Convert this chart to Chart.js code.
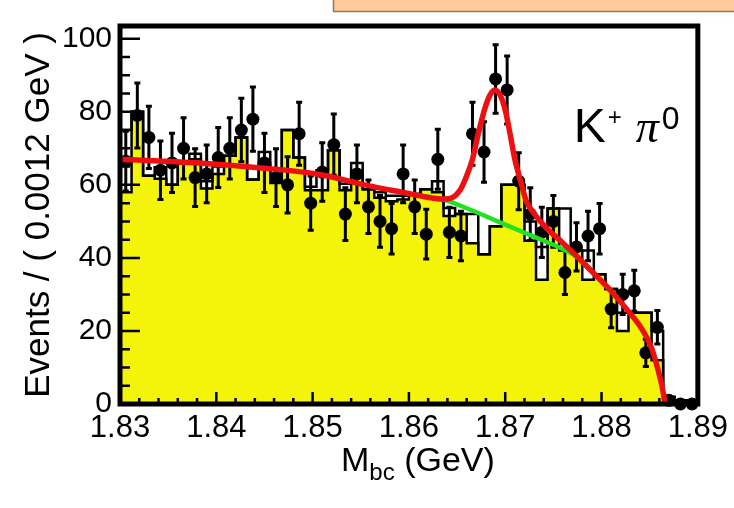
<!DOCTYPE html>
<html>
<head>
<meta charset="utf-8">
<script src="https://cdn.jsdelivr.net/npm/chart.js@4.4.1/dist/chart.umd.min.js"></script>
<style>
  html, body { margin: 0; padding: 0; background: #fff; }
  #wrap { width: 734px; height: 508px; position: relative; }
</style>
</head>
<body>
<div id="wrap"><canvas id="mbc-chart" width="734" height="508"></canvas></div>
<script>
// binning: 50 bins of 0.0012 GeV starting at 1.83
const binLow = 1.83;
const binWidth = 0.0012;

// data points (events per bin) and their error bars
const dataCounts = [
  66.5, 79, 73, 64, 66, 70, 62, 63, 67.5, 70,
  75, 78, 66, 62, 60, 74, 55, 63.5, 71, 52,
  63, 54, 50, 48, 63, 54, 46.5, 67, 47, 46,
  74, 69, 89, 86, 61, 52, 47, 50, 36, 43,
  46, 48, 26, 30, 31, 14, 21, 1, 0, 0,
];
const dataErrors = [
  8.2, 8.9, 8.5, 8.0, 8.1, 8.4, 7.9, 7.9, 8.2, 8.4,
  8.7, 8.8, 8.1, 7.9, 7.7, 8.6, 7.4, 8.0, 8.4, 7.2,
  7.9, 7.3, 7.1, 6.9, 7.9, 7.3, 6.8, 8.2, 6.9, 6.8,
  8.6, 8.3, 9.4, 9.3, 7.8, 7.2, 6.9, 7.1, 6.0, 6.6,
  6.8, 6.9, 5.1, 5.5, 5.6, 3.7, 4.6, 1.0, 0, 0,
];

// yellow filled histogram and the open outline histogram
const yellowHist = [
  58, 80, 62.5, 61.7, 60, 66, 67, 59, 63, 68,
  73, 61.5, 66, 60.5, 75, 67.5, 58.5, 58.5, 69.5, 58.5,
  63, 58.8, 56.5, 55.5, 56, 57.5, 58.8, 58, 51.5, 52,
  44, 41, 48.7, 60, 60, 44.7, 34, 53.5, 42, 42,
  34, 35.5, 31.5, 20, 25, 25, 12, 0, 0, 0,
];
const outlineHist = [
  75, 80, 62.5, 64.8, 60, 66, 68.5, 61, 65, 68,
  73, 61.5, 69, 62, 75, 67.5, 59.5, 64, 69.5, 60.3,
  66, 58.8, 58, 57, 57, 57.5, 58.8, 61, 53.7, 52,
  52, 41, 48.7, 60, 60, 50, 43, 53.5, 53.5, 42,
  42, 35.5, 31.5, 25, 25, 25, 20, 2, 1, 1,
];

// total fit (red)
const fitX = [
  1.8300, 1.8382, 1.8444, 1.8506, 1.8554, 1.8598, 1.8619, 1.8636, 1.8645, 1.8653,
  1.8660, 1.8666, 1.8672, 1.8679, 1.8684, 1.8689, 1.8695, 1.8700, 1.8705, 1.8710,
  1.8716, 1.8722, 1.8729, 1.8742, 1.8759, 1.8776, 1.8793, 1.8811, 1.8827, 1.8842,
  1.8852, 1.8858, 1.8863, 1.8866,
];
const fitY = [
  67, 66, 64.7, 62.9, 60, 57.7, 56.6, 56.1, 56.5, 58.5,
  62.5, 67, 74, 81, 84.5, 86, 84.5, 80.5, 74, 67,
  61, 55.5, 52.5, 48.4, 44.3, 40.0, 35.5, 30.6, 25.7, 20.5,
  15.3, 10, 4.6, 0,
];

// background component (green)
const bkgX = [1.8600, 1.8636, 1.8660, 1.8680, 1.8700, 1.8720, 1.8740, 1.8760, 1.8776, 1.8793];
const bkgY = [57.5, 56.0, 53.6, 51.4, 49.1, 46.9, 44.7, 42.4, 40.0, 35.5];

const xTicks = [1.83, 1.84, 1.85, 1.86, 1.87, 1.88, 1.89];
const yTicks = [0, 20, 40, 60, 80, 100];

const FONT = '"Liberation Sans", Arial, Helvetica, sans-serif';

function histSteps(values) {
  const pts = [{ x: binLow, y: 0 }];
  values.forEach((v, i) => pts.push({ x: binLow + i * binWidth, y: v }));
  const end = binLow + values.length * binWidth;
  pts.push({ x: end, y: values[values.length - 1] });
  pts.push({ x: end, y: 0 });
  return pts;
}

const dataPoints = dataCounts.map((v, i) => ({ x: binLow + (i + 0.5) * binWidth, y: v }));

const errorBars = {
  id: 'errorBars',
  beforeDatasetDraw(chart, args) {
    if (args.meta.label !== 'data') return;
    const { ctx, scales: { x, y } } = chart;
    ctx.save();
    ctx.strokeStyle = '#000';
    ctx.lineWidth = 3;
    dataCounts.forEach((v, i) => {
      const err = dataErrors[i];
      if (!err) return;
      const px = x.getPixelForValue(binLow + (i + 0.5) * binWidth);
      const top = y.getPixelForValue(v + err);
      const bot = y.getPixelForValue(Math.max(v - err, 0));
      ctx.beginPath();
      ctx.moveTo(px, top); ctx.lineTo(px, bot);
      ctx.moveTo(px - 3, top); ctx.lineTo(px + 3, top);
      ctx.moveTo(px - 3, bot); ctx.lineTo(px + 3, bot);
      ctx.stroke();
    });
    ctx.restore();
  },
};

const frameAndTicks = {
  id: 'frameAndTicks',
  beforeDraw(chart) {
    const { ctx } = chart;
    ctx.save();
    ctx.fillStyle = '#ffcc99';
    ctx.fillRect(333, 0, 401, 11);
    ctx.strokeStyle = '#8a7a6a';
    ctx.lineWidth = 1.5;
    ctx.beginPath();
    ctx.moveTo(333.5, 0); ctx.lineTo(333.5, 11.5); ctx.lineTo(734, 11.5);
    ctx.stroke();
    ctx.restore();
  },
  afterDatasetsDraw(chart) {
    const { ctx, chartArea: a, scales: { x, y } } = chart;
    ctx.save();
    ctx.strokeStyle = '#000';
    ctx.lineWidth = 2.5;
    ctx.beginPath();
    for (let i = 0; i <= 30; i++) {
      const px = x.getPixelForValue(xTicks[0] + i * 0.002);
      const len = i % 5 === 0 ? 12 : 6;
      ctx.moveTo(px, a.bottom); ctx.lineTo(px, a.bottom - len);
    }
    for (let i = 0; i <= 20; i++) {
      const py = y.getPixelForValue(i * 5);
      const len = i % 4 === 0 ? 20 : 10;
      ctx.moveTo(a.left, py); ctx.lineTo(a.left + len, py);
    }
    ctx.stroke();
    ctx.lineWidth = 5;
    ctx.strokeRect(a.left, a.top, a.right - a.left, a.bottom - a.top);
    ctx.restore();
  },
  afterDraw(chart) {
    const { ctx, chartArea: a } = chart;
    ctx.save();
    ctx.fillStyle = '#000';
    ctx.textBaseline = 'alphabetic';
    ctx.textAlign = 'left';
    // x axis title with subscript
    const big = `34px ${FONT}`;
    const small = `24px ${FONT}`;
    ctx.font = big;
    const wM = ctx.measureText('M').width;
    const wRest = ctx.measureText(' (GeV)').width;
    ctx.font = small;
    const wSub = ctx.measureText('bc').width;
    let tx = (a.left + a.right) / 2 + 9 - (wM + wSub + wRest) / 2;
    const base = a.bottom + 67;
    ctx.font = big;
    ctx.fillText('M', tx, base);
    tx += wM;
    ctx.font = small;
    ctx.fillText('bc', tx, base + 9);
    tx += wSub;
    ctx.font = big;
    ctx.fillText(' (GeV)', tx, base);

    // channel label
    const lx = a.right - 124;
    const ly = a.top + 116;
    ctx.font = `48px ${FONT}`;
    ctx.fillText('K', lx, ly);
    ctx.font = `24px ${FONT}`;
    ctx.fillText('+', lx + 34, ly - 17);
    ctx.font = `italic 46px "Liberation Serif", "DejaVu Serif", serif`;
    ctx.fillText('π', lx + 62, ly);
    ctx.font = `32px ${FONT}`;
    ctx.fillText('0', lx + 88, ly - 13);
    ctx.restore();
  },
};

const chart = new Chart(document.querySelector('#mbc-chart'), {
  type: 'line',
  data: {
    datasets: [
      {
        label: 'yellow',
        data: histSteps(yellowHist),
        stepped: 'before',
        fill: 'origin',
        backgroundColor: '#f4f40a',
        borderColor: '#000',
        borderWidth: 2.5,
        pointRadius: 0,
        order: 6,
      },
      {
        label: 'outline',
        data: histSteps(outlineHist),
        stepped: 'before',
        fill: false,
        borderColor: '#000',
        borderWidth: 2.5,
        pointRadius: 0,
        order: 5,
      },
      {
        label: 'data',
        type: 'scatter',
        data: dataPoints,
        pointRadius: 6.5,
        pointBackgroundColor: '#000',
        pointBorderWidth: 0,
        showLine: false,
        clip: false,
        order: 4,
      },
      {
        label: 'background',
        data: bkgX.map((v, i) => ({ x: v, y: bkgY[i] })),
        borderColor: '#22e022',
        borderWidth: 4.5,
        pointRadius: 0,
        cubicInterpolationMode: 'monotone',
        fill: false,
        order: 3,
      },
      {
        label: 'fit',
        data: fitX.map((v, i) => ({ x: v, y: fitY[i] })),
        borderColor: '#ee1010',
        borderWidth: 5.5,
        pointRadius: 0,
        cubicInterpolationMode: 'monotone',
        fill: false,
        order: 2,
      },
    ],
  },
  options: {
    responsive: false,
    devicePixelRatio: 1,
    animation: false,
    events: [],
    layout: { padding: { top: 17, right: 30, left: 0, bottom: 0 } },
    plugins: {
      legend: { display: false },
      tooltip: { enabled: false },
    },
    scales: {
      x: {
        type: 'linear',
        min: 1.83,
        max: 1.89,
        afterBuildTicks: (scale) => { scale.ticks = xTicks.map((value) => ({ value })); },
        afterFit: (scale) => { scale.height = 104; },
        grid: { display: false, drawTicks: false },
        border: { display: false },
        ticks: {
          color: '#000',
          font: { family: FONT, size: 31 },
          padding: 6,
          maxRotation: 0,
          autoSkip: false,
          callback: (value) => value.toFixed(2),
        },
      },
      y: {
        type: 'linear',
        min: 0,
        max: 103.5,
        afterBuildTicks: (scale) => { scale.ticks = yTicks.map((value) => ({ value })); },
        afterFit: (scale) => { scale.width = 120; },
        grid: { display: false, drawTicks: false },
        border: { display: false },
        ticks: {
          color: '#000',
          font: { family: FONT, size: 30 },
          padding: 8,
          autoSkip: false,
        },
        title: {
          display: true,
          text: 'Events / ( 0.0012 GeV )',
          color: '#000',
          font: { family: FONT, size: 35 },
          padding: { top: 18, bottom: 0 },
        },
      },
    },
  },
  plugins: [errorBars, frameAndTicks],
});
</script>
</body>
</html>
